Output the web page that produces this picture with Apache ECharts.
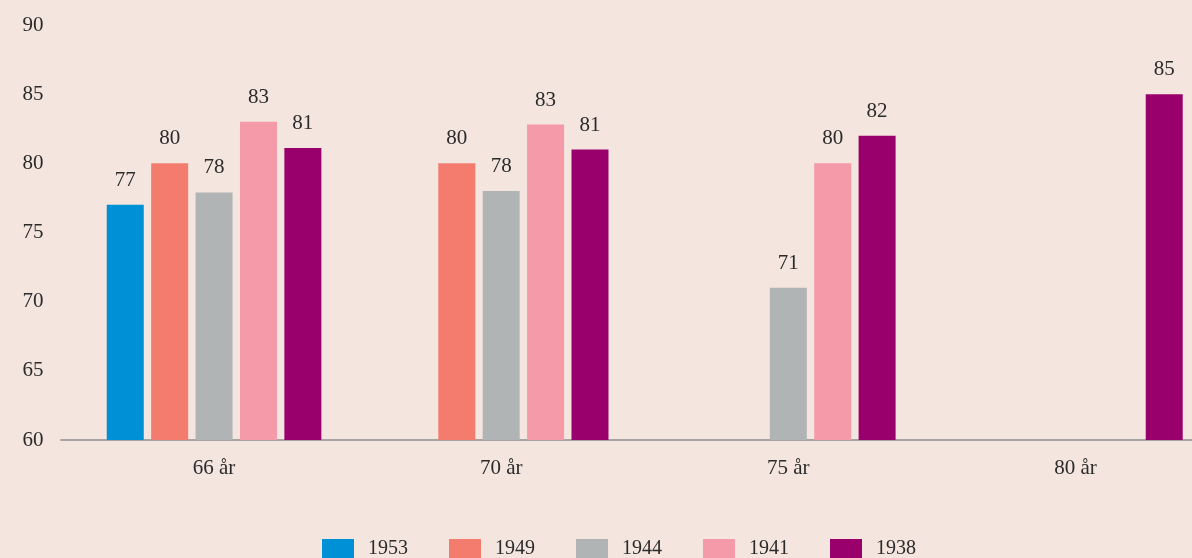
<!DOCTYPE html>
<html>
<head>
<meta charset="utf-8">
<script src="https://cdn.jsdelivr.net/npm/echarts@6/dist/echarts.min.js"></script>
<style>
  html, body { margin: 0; padding: 0; background: #f4e5df; overflow: hidden; }
  /* canvas is a bit wider than the window: the original is cropped on the right */
  #chart { width: 1219px; height: 558px; }
</style>
</head>
<body>
<div id="chart"></div>
<script>
// categories on the x axis
const ages = ['66 år', '70 år', '75 år', '80 år'];
// one list per birth cohort (null = no bar)
const s1953 = [77.0, null, null, null];
const s1949 = [80.0, 80.0, null, null];
const s1944 = [77.9, 78.0, 71.0, null];
const s1941 = [83.0, 82.8, 80.0, null];
const s1938 = [81.1, 81.0, 82.0, 85.0];
const cohorts = ['1953', '1949', '1944', '1941', '1938'];
const colors = ['#0090d5', '#f47c6f', '#b1b4b4', '#f49aa8', '#9a006b'];

const font = '"Liberation Serif", "DejaVu Serif", serif';
const textColor = '#2b2b2b';

const chart = echarts.init(document.getElementById('chart'));

const makeSeries = (name, data) => ({
  name,
  type: 'bar',
  data,
  barWidth: 37,
  barGap: '20%',
  label: {
    show: true,
    position: 'top',
    distance: 14,
    color: textColor,
    fontFamily: font,
    fontSize: 21,
    formatter: p => Math.round(p.value)
  }
});

chart.setOption({
  backgroundColor: '#f4e5df',
  color: colors,
  animation: false,
  grid: [
    { left: 70.5, right: 0, top: 25, bottom: 118 },
    { left: 61, right: 0, top: 25, bottom: 118 }
  ],
  legend: {
    left: 322,
    top: 539,
    padding: 0,
    itemWidth: 32,
    itemHeight: 20,
    itemGap: 41,
    icon: 'rect',
    data: cohorts,
    textStyle: {
      color: textColor,
      fontFamily: font,
      fontSize: 20,
      padding: [0, 0, 0, 9]
    }
  },
  xAxis: [
    {
      type: 'category',
      gridIndex: 0,
      data: ages,
      axisLine: { show: false },
      axisTick: { show: false },
      axisLabel: {
        margin: 18,
        color: textColor,
        fontFamily: font,
        fontSize: 21
      }
    },
    {
      type: 'category',
      gridIndex: 1,
      data: ages,
      axisLine: { show: true, lineStyle: { color: '#a5a5a5', width: 2 } },
      axisTick: { show: false },
      axisLabel: { show: false }
    }
  ],
  yAxis: [
    {
      type: 'value',
      gridIndex: 0,
      min: 60,
      max: 90,
      interval: 5,
      axisLine: { show: false },
      axisTick: { show: false },
      splitLine: { show: false },
      axisLabel: {
        align: 'left',
        margin: 48,
        color: textColor,
        fontFamily: font,
        fontSize: 21
      }
    },
    {
      type: 'value',
      gridIndex: 1,
      min: 60,
      max: 90,
      show: false
    }
  ],
  series: [
    makeSeries('1953', s1953),
    makeSeries('1949', s1949),
    makeSeries('1944', s1944),
    makeSeries('1941', s1941),
    makeSeries('1938', s1938)
  ]
});
</script>
</body>
</html>
